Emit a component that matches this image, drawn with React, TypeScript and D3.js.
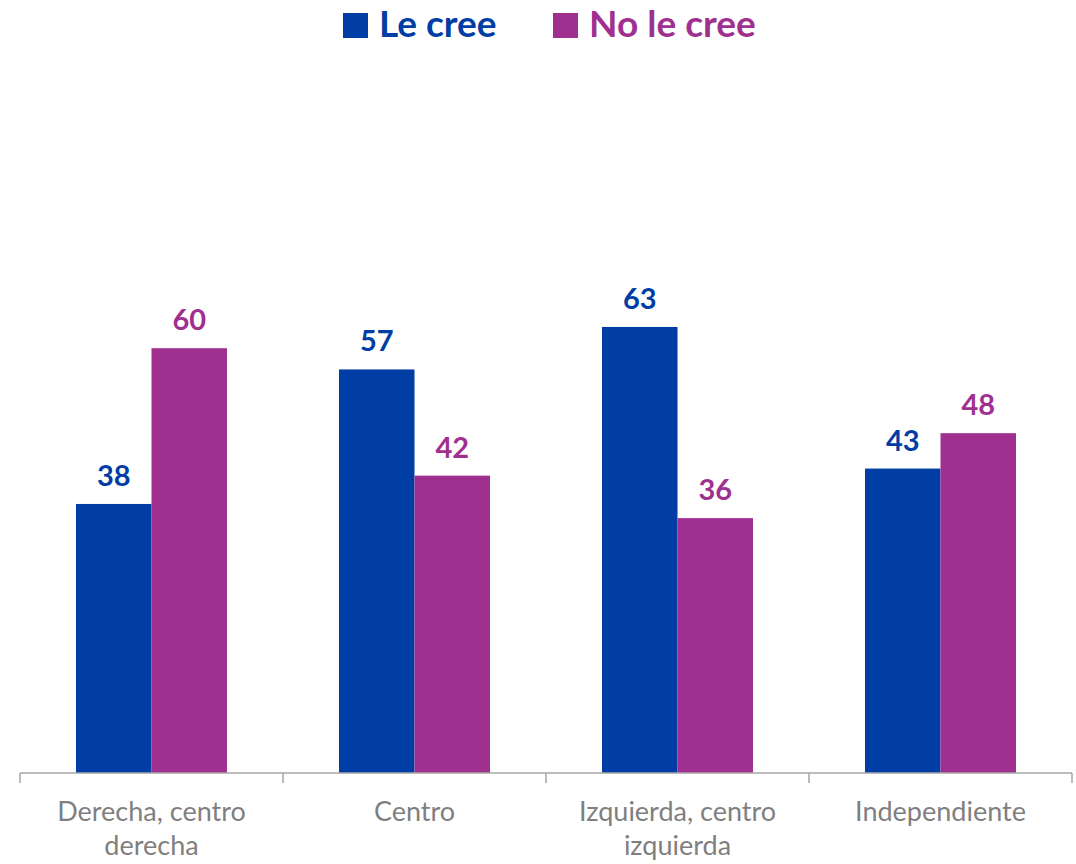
import React, { useEffect, useRef } from "react";
import * as d3 from "d3";

const categories = ["Derecha, centro derecha", "Centro", "Izquierda, centro izquierda", "Independiente"];
const categoryLines = [["Derecha, centro", "derecha"], ["Centro"], ["Izquierda, centro", "izquierda"], ["Independiente"]];
const seriesNames = ["Le cree", "No le cree"];
const leCree = [38, 57, 63, 43];
const noLeCree = [60, 42, 36, 48];
const colors = ["#003DA5", "#A0308F"];

const width = 1076;
const height = 864;

const App = () => {
    const svgRef = useRef<SVGSVGElement | null>(null);

    useEffect(() => {
        const svg = d3.select(svgRef.current);
        svg.selectAll("*").remove();

        const font = "Lato, 'Open Sans', sans-serif";
        const x0 = d3.scaleBand().domain(categories).range([20, 1072]).padding(0);
        const x1 = d3.scaleBand().domain(seriesNames).range([0, 151]).padding(0);
        const y = d3.scaleLinear().domain([0, 100]).range([773, 65]);
        const inner = (x0.bandwidth() - 151) / 2;

        const rows = categories.map((c, i) => ({ cat: c, vals: [leCree[i], noLeCree[i]] }));

        const groups = svg
            .append("g")
            .selectAll("g")
            .data(rows)
            .join("g")
            .attr("transform", (d) => `translate(${(x0(d.cat) ?? 0) + inner},0)`);

        groups
            .selectAll("rect")
            .data((d) => d.vals.map((v, j) => ({ v, j })))
            .join("rect")
            .attr("x", (d) => x1(seriesNames[d.j]) ?? 0)
            .attr("width", x1.bandwidth())
            .attr("y", (d) => y(d.v))
            .attr("height", (d) => y(0) - y(d.v))
            .attr("fill", (d) => colors[d.j]);

        groups
            .selectAll("text")
            .data((d) => d.vals.map((v, j) => ({ v, j })))
            .join("text")
            .attr("x", (d) => (x1(seriesNames[d.j]) ?? 0) + x1.bandwidth() / 2)
            .attr("y", (d) => y(d.v) - 18)
            .attr("text-anchor", "middle")
            .attr("font-family", font)
            .attr("font-weight", "bold")
            .attr("font-size", 29)
            .attr("fill", (d) => colors[d.j])
            .text((d) => d.v);

        // axis
        const axis = svg.append("g").attr("stroke", "#A6A6A6").attr("stroke-width", 1.5);
        axis.append("line").attr("x1", 20).attr("x2", 1072).attr("y1", y(0)).attr("y2", y(0));
        const tickXs = categories.map((c) => x0(c) ?? 0).concat([1072]);
        axis
            .selectAll("line.tick")
            .data(tickXs)
            .join("line")
            .attr("class", "tick")
            .attr("x1", (d) => d)
            .attr("x2", (d) => d)
            .attr("y1", y(0))
            .attr("y2", y(0) + 10);

        const labels = svg
            .append("g")
            .selectAll("text")
            .data(categories)
            .join("text")
            .attr("text-anchor", "middle")
            .attr("font-family", font)
            .attr("font-size", 27)
            .attr("fill", "#7F7F7F");
        labels
            .selectAll("tspan")
            .data((d, i) => categoryLines[i].map((t, k) => ({ t, k, c: d })))
            .join("tspan")
            .attr("x", (d) => (x0(d.c) ?? 0) + x0.bandwidth() / 2)
            .attr("y", (d) => 821 + d.k * 34)
            .text((d) => d.t);

        // legend
        const legendX = [343, 553];
        const legend = svg
            .append("g")
            .selectAll("g")
            .data(seriesNames)
            .join("g")
            .attr("transform", (d, i) => `translate(${legendX[i]},0)`);
        legend
            .append("rect")
            .attr("y", 13)
            .attr("width", 25)
            .attr("height", 25)
            .attr("fill", (d, i) => colors[i]);
        legend
            .append("text")
            .attr("x", 36)
            .attr("y", 37)
            .attr("font-family", font)
            .attr("font-weight", "bold")
            .attr("font-size", 37)
            .attr("fill", (d, i) => colors[i])
            .text((d) => d);
    }, []);

    return (
        <div>
            <svg
                ref={svgRef}
                width={width}
                height={height}
                style={{ position: "absolute", left: 0, top: 0, display: "block", background: "white" }}
            />
        </div>
    );
};

export default App;
